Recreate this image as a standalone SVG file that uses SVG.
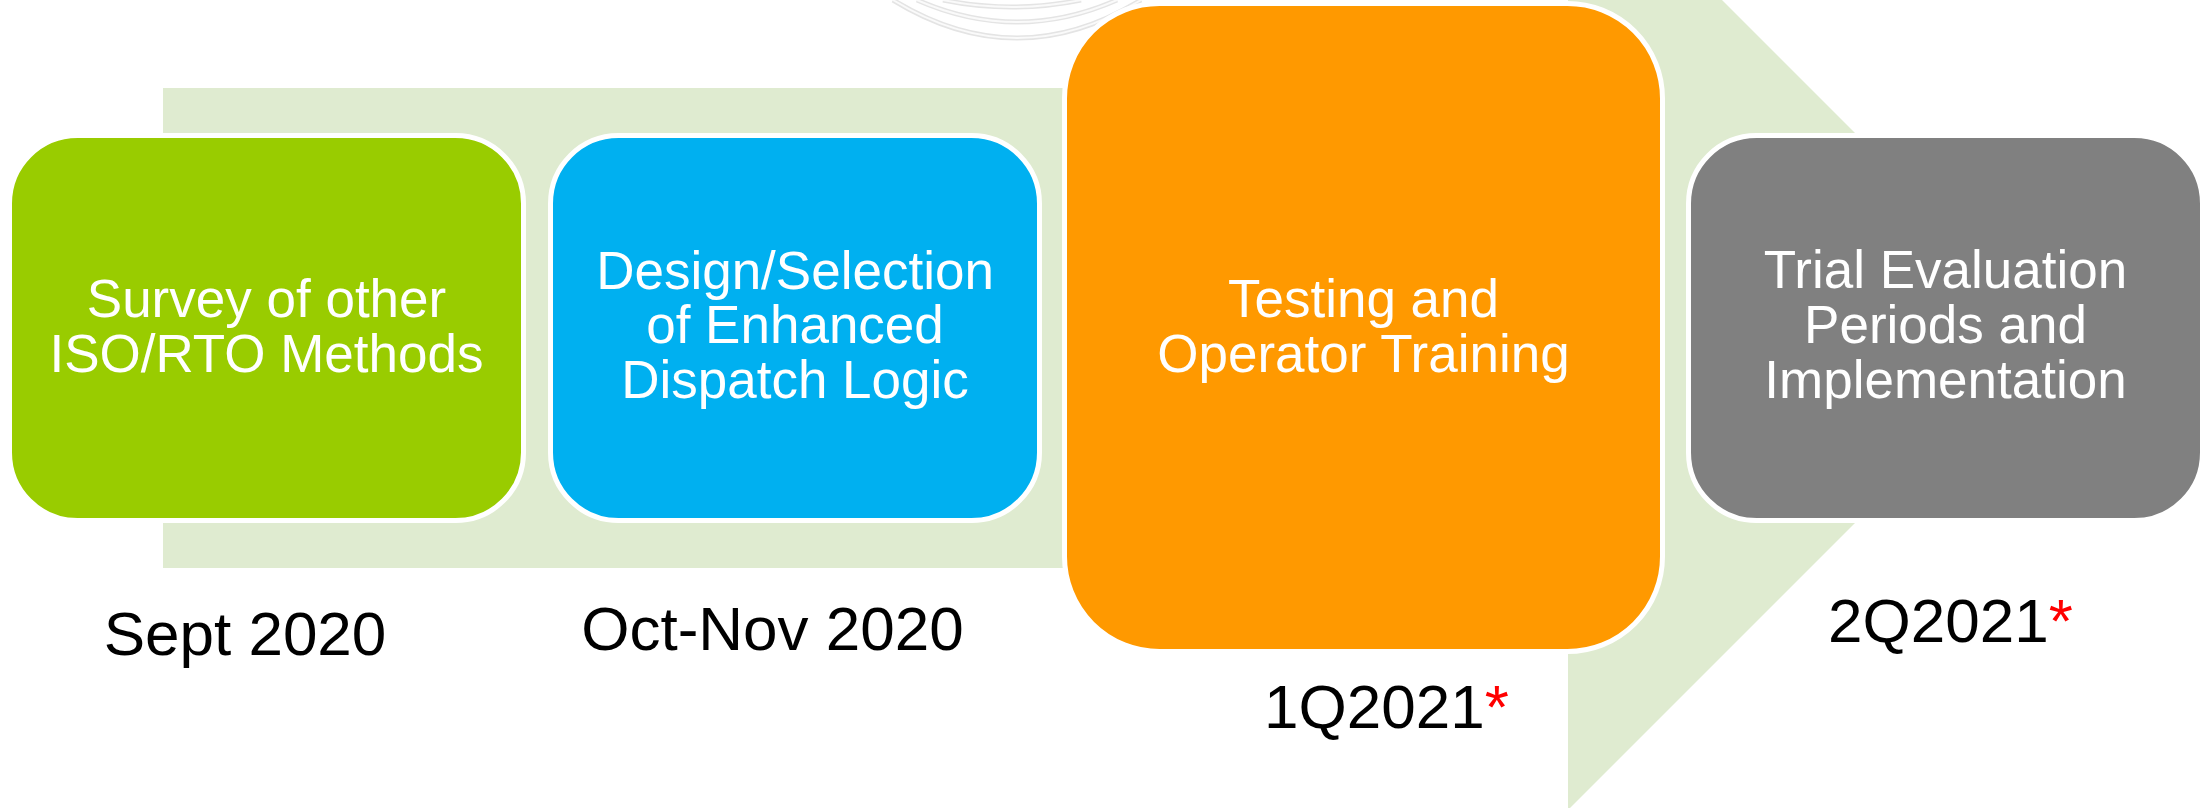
<svg xmlns="http://www.w3.org/2000/svg" width="2211" height="808" viewBox="0 0 2211 808">
<style>
.box{stroke:#ffffff;stroke-width:5}
.lbl{font-family:"Liberation Sans",Arial,sans-serif;font-size:53px;fill:#ffffff;text-anchor:middle}
.date{font-family:"Liberation Sans",Arial,sans-serif;font-size:62px;fill:#000000}
.ast{fill:#ff0000}
.arc{fill:none;stroke:#e4e4e4;stroke-width:5}
.arcin{fill:none;stroke:#fafafa;stroke-width:2}
</style>
<rect width="2211" height="808" fill="#ffffff"/>
<g id="decoration">
<path class="arc" d="M 893 0 Q 1017 76 1141 0"/>
<path class="arc" d="M 917 0 Q 1017 44 1117 0"/>
<path class="arc" d="M 943 0 Q 1012 14 1081 0"/>
<path class="arcin" d="M 893 0 Q 1017 76 1141 0"/>
<path class="arcin" d="M 917 0 Q 1017 44 1117 0"/>
<path class="arcin" d="M 943 0 Q 1012 14 1081 0"/>
</g>
<g id="connectors">
<polygon points="163,88 1568,88 1568,-154 2050,328 1568,810 1568,568 163,568" fill="#dfebd0"/>
</g>
<g id="node-survey">
<rect class="box" x="9.5" y="135.5" width="514" height="385" rx="68" ry="68" fill="#99cc00"/>
<text class="lbl" x="266.5" y="317">Survey of other</text>
<text class="lbl" x="266.5" y="372">ISO/RTO Methods</text>
</g>
<g id="node-design">
<rect class="box" x="550.5" y="135.5" width="489" height="385" rx="68" ry="68" fill="#00b0f0"/>
<text class="lbl" x="795" y="289">Design/Selection</text>
<text class="lbl" x="795" y="343">of Enhanced</text>
<text class="lbl" x="795" y="398">Dispatch Logic</text>
</g>
<g id="node-testing">
<rect class="box" x="1064.5" y="3.5" width="598" height="648" rx="95" ry="95" fill="#ff9900"/>
<text class="lbl" x="1363.5" y="317">Testing and</text>
<text class="lbl" x="1363.5" y="372">Operator Training</text>
</g>
<g id="node-trial">
<rect class="box" x="1688.5" y="135.5" width="514" height="385" rx="68" ry="68" fill="#808080"/>
<text class="lbl" x="1945.5" y="288">Trial Evaluation</text>
<text class="lbl" x="1945.5" y="343">Periods and</text>
<text class="lbl" x="1945.5" y="398">Implementation</text>
</g>
<g id="dates">
<text class="date" x="245" y="655" text-anchor="middle">Sept 2020</text>
<text class="date" x="772.5" y="650" text-anchor="middle">Oct-Nov 2020</text>
<text class="date" x="1264" y="728">1Q2021<tspan class="ast">*</tspan></text>
<text class="date" x="1828" y="642">2Q2021<tspan class="ast">*</tspan></text>
</g>
</svg>
